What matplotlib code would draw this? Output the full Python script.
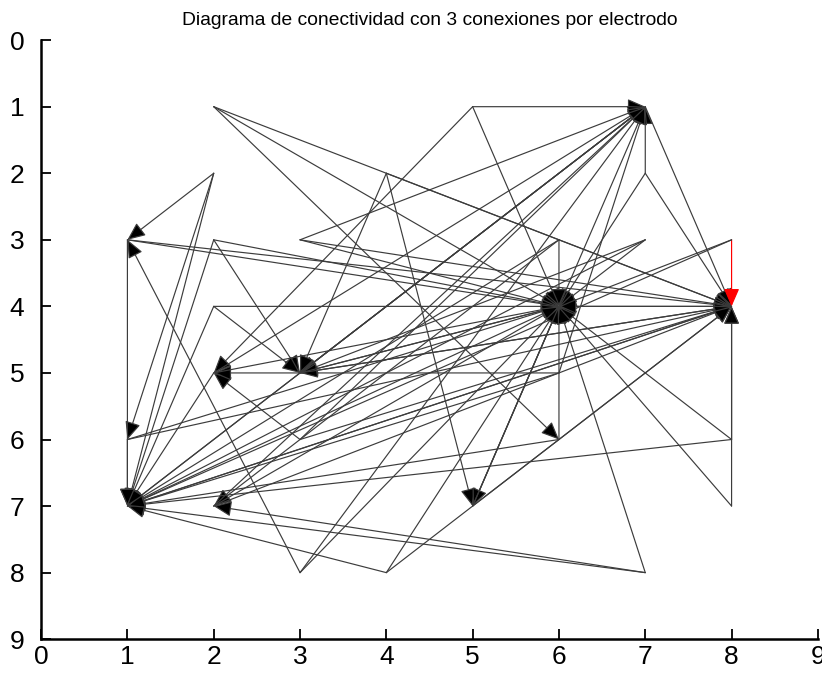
import matplotlib
matplotlib.use("Agg")
import matplotlib.pyplot as plt

plt.rcParams['font.family'] = ['Liberation Sans', 'DejaVu Sans']

# Directed connections between electrodes (grid column, grid row)
src_x = [2, 2, 2, 5, 5, 5, 7, 7, 7, 7, 7, 7,
         2, 2, 2, 4, 4, 4, 1, 1, 1, 2, 2, 2,
         3, 3, 3, 6, 6, 6, 7, 7, 7, 8, 8, 8,
         2, 2, 2, 3, 3, 3, 6, 6, 6, 6, 6, 8,
         8, 8, 8, 8, 7, 7, 7, 3, 3, 3, 4, 4,
         4, 6, 6, 6, 1, 1, 1, 8, 8, 8, 3, 3,
         3, 2, 2, 2, 1, 1, 1, 2, 2, 2, 5, 5, 5]
src_y = [1, 1, 1, 1, 1, 1, 2, 2, 2, 1, 1, 1,
         2, 2, 2, 2, 2, 2, 3, 3, 3, 3, 3, 3,
         3, 3, 3, 3, 3, 3, 3, 3, 3, 3, 3, 3,
         4, 4, 4, 6, 6, 6, 5, 5, 5, 6, 6, 6,
         6, 6, 7, 7, 8, 8, 8, 8, 8, 8, 8, 8,
         8, 4, 4, 4, 7, 7, 7, 4, 4, 4, 5, 5,
         5, 5, 5, 5, 6, 6, 6, 7, 7, 7, 7, 7, 7]
dst_x = [8, 6, 6, 7, 2, 6, 7, 8, 6, 8, 1, 3,
         1, 1, 1, 5, 8, 3, 8, 1, 6, 6, 3, 1,
         7, 6, 8, 6, 2, 1, 6, 1, 3, 8, 6, 1,
         6, 3, 1, 2, 8, 7, 2, 1, 7, 6, 1, 1,
         6, 8, 6, 8, 6, 1, 2, 1, 7, 6, 8, 1,
         6, 8, 5, 3, 6, 7, 8, 6, 3, 1, 6, 7,
         8, 6, 7, 1, 6, 8, 1, 6, 8, 7, 6, 7, 8]
dst_y = [4, 4, 6, 1, 5, 4, 1, 4, 4, 4, 7, 5,
         3, 6, 7, 7, 4, 5, 4, 7, 4, 4, 5, 7,
         1, 4, 4, 4, 7, 7, 4, 7, 5, 4, 4, 7,
         4, 5, 7, 5, 4, 1, 5, 7, 1, 4, 7, 7,
         4, 4, 4, 4, 4, 7, 7, 3, 1, 4, 4, 7,
         4, 4, 7, 5, 4, 1, 4, 4, 5, 7, 4, 1,
         4, 4, 1, 7, 4, 4, 7, 4, 4, 1, 4, 1, 4]

# the one connection drawn in red
highlight = (8, 3, 8, 4)

ticks = [0, 1, 2, 3, 4, 5, 6, 7, 8, 9]
title = "Diagrama de conectividad con 3 conexiones por electrodo"

fig = plt.figure(figsize=(8.22, 6.80), dpi=100)
ax = fig.add_axes([0.050, 0.060, 0.945, 0.881])

for sx, sy, tx, ty in zip(src_x, src_y, dst_x, dst_y):
    red = (sx, sy, tx, ty) == highlight
    ax.annotate('', xy=(tx, ty), xytext=(sx, sy),
                arrowprops=dict(arrowstyle='-|>,head_length=0.55,head_width=0.24',
                                edgecolor='red' if red else '#3c3c3c',
                                facecolor='red' if red else 'black',
                                lw=0.85, shrinkA=0, shrinkB=0,
                                mutation_scale=20),
                annotation_clip=False)

ax.set_xlim(0, 9)
ax.set_ylim(9, 0)
ax.set_xticks(ticks)
ax.set_yticks(ticks)
ax.tick_params(direction='in', length=7, width=1.3, labelsize=19, colors='black')
ax.tick_params(axis='x', pad=4)
ax.tick_params(axis='y', pad=12)
for side in ('top', 'right'):
    ax.spines[side].set_visible(False)
for side in ('left', 'bottom'):
    ax.spines[side].set_linewidth(1.8)

ax.set_title(title, fontsize=13.9, pad=11)

fig.savefig("out.png", dpi=100)
